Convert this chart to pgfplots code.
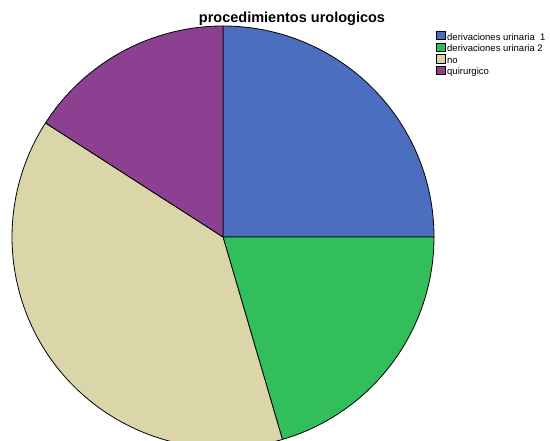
\documentclass[border=0pt]{standalone}
\usepackage{pgfplots}
\pgfplotsset{compat=1.18}
\usepackage{fontspec}
\setmainfont{Liberation Sans}

\definecolor{pblue}{RGB}{75,110,190}
\definecolor{pgreen}{RGB}{50,190,90}
\definecolor{pbeige}{RGB}{219,214,170}
\definecolor{ppurple}{RGB}{140,64,145}

% counts per category (n = 44)
\def\slices{11/pblue,9/pgreen,17/pbeige,7/ppurple}
\def\total{44}

\begin{document}
\begin{tikzpicture}
  \path[use as bounding box] (0,0) rectangle (550pt,440pt);
  \begin{axis}[
    at={(0,0)}, anchor=south west,
    x=1pt, y=1pt,
    xmin=0, xmax=550, ymin=0, ymax=440,
    hide axis, clip=true,
    legend style={
      at={(axis cs:436,409)}, anchor=north west,
      draw=none, fill=none, inner sep=0pt, outer sep=0pt,
      font=\fontsize{9.5}{10}\selectfont,
      row sep=0pt,
      nodes={inner sep=0.4pt, text height=6.8pt, text depth=2pt},
      /tikz/every odd column/.style={column sep=1.8pt},
    },
    legend cell align=left,
    legend image code/.code={
      \filldraw[#1, draw=black, line width=0.5pt] (0pt,-2pt) rectangle (8.5pt,6.5pt);
    },
  ]
    \addlegendimage{fill=pblue}
    \addlegendentry{derivaciones urinaria\ \ 1}
    \addlegendimage{fill=pgreen}
    \addlegendentry{derivaciones urinaria 2}
    \addlegendimage{fill=pbeige}
    \addlegendentry{no}
    \addlegendimage{fill=ppurple}
    \addlegendentry{quirurgico}

    % slices, clockwise from 12 o'clock
    \xdef\angA{90}
    \foreach \n/\c in \slices {
      \pgfmathsetmacro\angB{\angA-360*\n/\total}
      \edef\tmp{\noexpand\filldraw[fill=\c, draw=black, line width=0.8pt]
        (axis cs:223,203) -- ++(\angA:211pt)
        arc[start angle=\angA, end angle=\angB, radius=211pt] -- cycle;}
      \tmp
      \xdef\angA{\angB}
    }

    \node[font=\fontsize{14.5}{16}\selectfont\bfseries, anchor=base]
      at (axis cs:292,417) {procedimientos urologicos};
  \end{axis}
\end{tikzpicture}
\end{document}
